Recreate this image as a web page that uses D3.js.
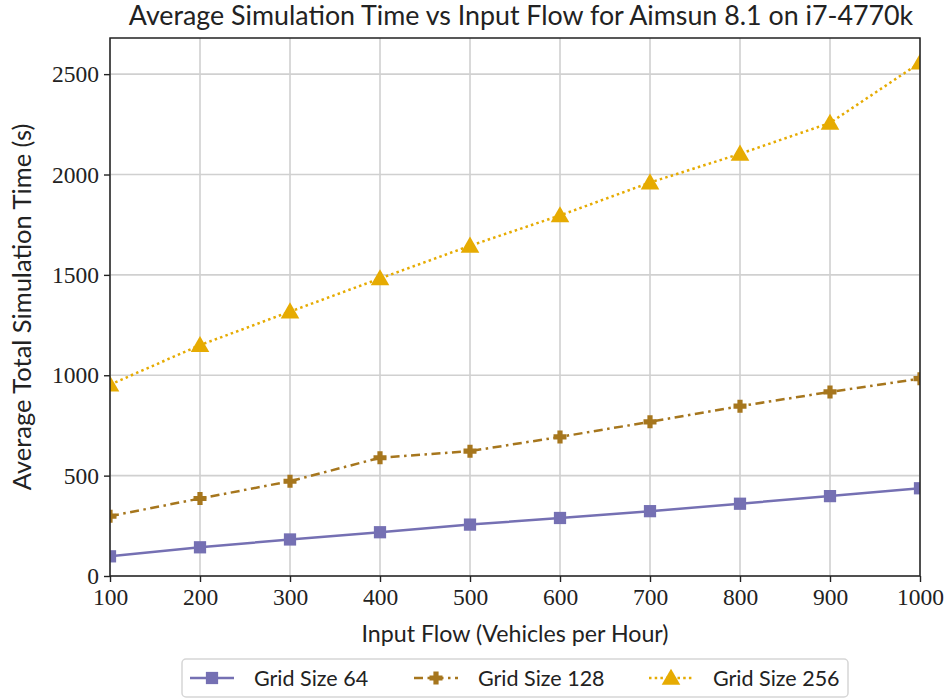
<!DOCTYPE html>
<html>
<head>
<meta charset="utf-8">
<script src="https://cdn.jsdelivr.net/npm/d3@7"></script>
<style>
  html, body { margin: 0; padding: 0; background: #fff; }
  svg { display: block; }
</style>
</head>
<body>
<svg id="chart" width="947" height="699"></svg>
<script>
// Input flow levels (vehicles per hour)
const flows = [100, 200, 300, 400, 500, 600, 700, 800, 900, 1000];

// Average total simulation time (s) per grid size
const grid64  = [98, 143, 182, 218, 256, 289, 323, 360, 398, 437];
const grid128 = [298, 386, 472, 589, 622, 693, 768, 846, 917, 983];
const grid256 = [953, 1150, 1317, 1482, 1645, 1796, 1960, 2103, 2257, 2557];

const seriesNames = ["Grid Size 64", "Grid Size 128", "Grid Size 256"];
const xTicks = [100, 200, 300, 400, 500, 600, 700, 800, 900, 1000];
const yTicks = [0, 500, 1000, 1500, 2000, 2500];

const titleText = "Average Simulation Time vs Input Flow for Aimsun 8.1 on i7-4770k";
const xLabel = "Input Flow (Vehicles per Hour)";
const yLabel = "Average Total Simulation Time (s)";

const series = [
  { name: seriesNames[0], values: grid64,  color: "#7570b3", dash: null,              marker: "square"   },
  { name: seriesNames[1], values: grid128, color: "#a6761d", dash: "9,4.5,2.5,4.5",   marker: "plus"     },
  { name: seriesNames[2], values: grid256, color: "#e6ab02", dash: "2.5,3.2",         marker: "triangle" }
];

const W = 947, H = 699;
const m = { left: 110, right: 27, top: 38, bottom: 123 };
const pw = W - m.left - m.right, ph = H - m.top - m.bottom;

const sansFont = "Lato, 'DejaVu Sans', sans-serif";
const serifFont = "'Liberation Serif', 'DejaVu Serif', serif";

const svg = d3.select("#chart");
const x = d3.scaleLinear().domain([100, 1000]).range([m.left, m.left + pw]);
const y = d3.scaleLinear().domain([0, 2680]).range([m.top + ph, m.top]);

// Marker shapes
const symSquare = d3.symbol().type(d3.symbolSquare).size(150);
const symTri = d3.symbol().type(d3.symbolTriangle).size(150);
const plusPath = (() => {
  const a = 6.5, b = 2.6;
  return `M${-b},${-a}H${b}V${-b}H${a}V${b}H${b}V${a}H${-b}V${b}H${-a}V${-b}H${-b}Z`;
})();
function markerPath(kind) {
  if (kind === "square") return symSquare();
  if (kind === "triangle") return symTri();
  return plusPath;
}

// Grid lines
const grid = svg.append("g");
grid.selectAll("line.gx").data(xTicks).join("line")
  .attr("x1", d => x(d)).attr("x2", d => x(d))
  .attr("y1", m.top).attr("y2", m.top + ph)
  .attr("stroke", "#d0d0d0").attr("stroke-width", 1.6);
grid.selectAll("line.gy").data(yTicks).join("line")
  .attr("x1", m.left).attr("x2", m.left + pw)
  .attr("y1", d => y(d)).attr("y2", d => y(d))
  .attr("stroke", "#d0d0d0").attr("stroke-width", 1.6);

// Plot clip region
svg.append("clipPath").attr("id", "plotClip")
  .append("rect").attr("x", m.left).attr("y", m.top).attr("width", pw).attr("height", ph);

const plot = svg.append("g").attr("clip-path", "url(#plotClip)");
const line = d3.line().x((d, i) => x(flows[i])).y(d => y(d));

series.forEach(s => {
  plot.append("path")
    .attr("d", line(s.values))
    .attr("fill", "none")
    .attr("stroke", s.color)
    .attr("stroke-width", 2.5)
    .attr("stroke-dasharray", s.dash);
  plot.selectAll(null).data(s.values).join("path")
    .attr("d", markerPath(s.marker))
    .attr("transform", (d, i) => `translate(${x(flows[i])},${y(d) + (s.marker === "triangle" ? 1.5 : 0)})`)
    .attr("fill", s.color);
});

// Axes
const xAxis = d3.axisBottom(x).tickValues(xTicks).tickSize(6).tickPadding(6).tickFormat(d3.format("d"));
const yAxis = d3.axisLeft(y).tickValues(yTicks).tickSize(6).tickPadding(5).tickFormat(d3.format("d"));

const gx = svg.append("g").attr("transform", `translate(0,${m.top + ph})`).call(xAxis);
const gy = svg.append("g").attr("transform", `translate(${m.left},0)`).call(yAxis);
[gx, gy].forEach(g => {
  g.select(".domain").remove();
  g.selectAll(".tick line").attr("stroke", "#222").attr("stroke-width", 1.4);
  g.selectAll(".tick text").attr("font-family", serifFont).attr("font-size", 23.5).attr("fill", "#222");
});
gy.selectAll(".tick text").attr("dy", "0.32em");

// Frame
svg.append("rect")
  .attr("x", m.left).attr("y", m.top).attr("width", pw).attr("height", ph)
  .attr("fill", "none").attr("stroke", "#222").attr("stroke-width", 1.5);

// Title and axis labels
svg.append("text")
  .attr("x", m.left + pw / 2 + 6).attr("y", 25)
  .attr("text-anchor", "middle")
  .attr("font-family", sansFont).attr("font-size", 26.8).attr("fill", "#222")
  .text(titleText);

svg.append("text")
  .attr("x", m.left + pw / 2).attr("y", 642)
  .attr("text-anchor", "middle")
  .attr("font-family", sansFont).attr("font-size", 23.2).attr("fill", "#222")
  .text(xLabel);

svg.append("text")
  .attr("transform", `translate(31,${m.top + ph / 2}) rotate(-90)`)
  .attr("text-anchor", "middle")
  .attr("font-family", sansFont).attr("font-size", 25.5).attr("fill", "#222")
  .text(yLabel);

// Legend
const lg = svg.append("g");
lg.append("rect")
  .attr("x", 182).attr("y", 659).attr("width", 666).attr("height", 38)
  .attr("rx", 4).attr("fill", "#fff").attr("stroke", "#d6d6d6").attr("stroke-width", 1.5);

const legendX = [190, 414, 649];
series.forEach((s, i) => {
  const lx = legendX[i], ly = 678;
  lg.append("line")
    .attr("x1", lx).attr("x2", lx + 44).attr("y1", ly).attr("y2", ly)
    .attr("stroke", s.color).attr("stroke-width", 2.5)
    .attr("stroke-dasharray", s.dash);
  lg.append("path")
    .attr("d", markerPath(s.marker))
    .attr("transform", `translate(${lx + 22},${ly + (s.marker === "triangle" ? 1.5 : 0)})`)
    .attr("fill", s.color);
  lg.append("text")
    .attr("x", lx + 64).attr("y", ly).attr("dy", "0.35em")
    .attr("font-family", sansFont).attr("font-size", 21.5).attr("fill", "#222")
    .text(s.name);
});
</script>
</body>
</html>
